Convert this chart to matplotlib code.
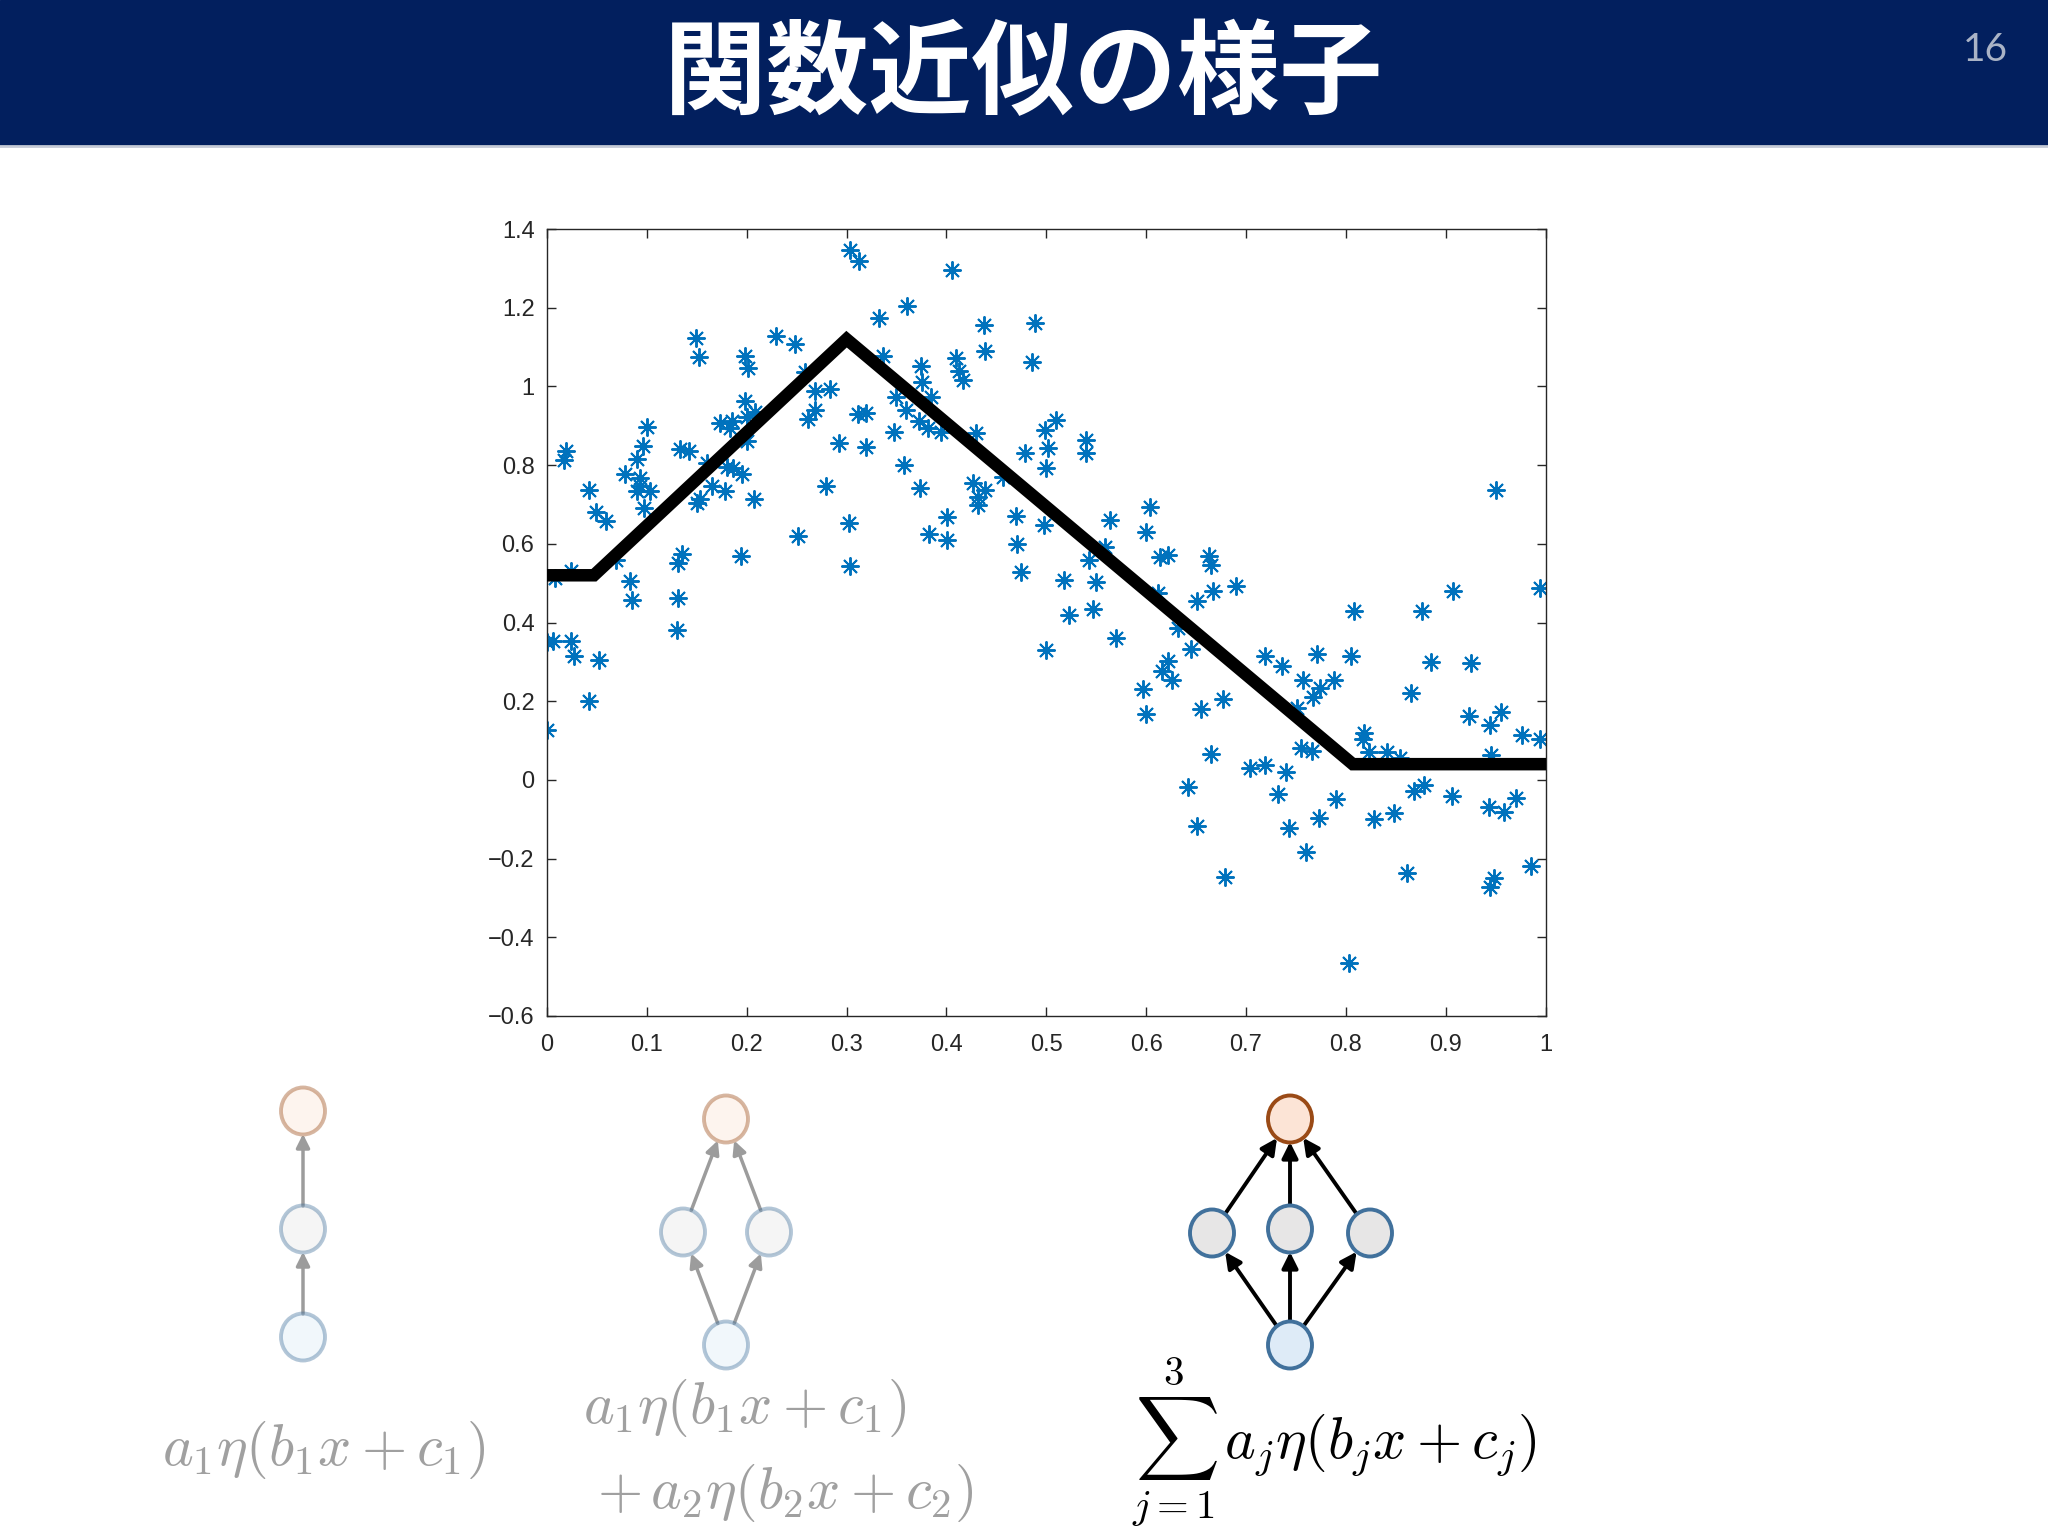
import matplotlib.pyplot as plt
from matplotlib.patches import Rectangle, Ellipse, FancyArrowPatch
import numpy as np

plt.rcParams['font.family'] = ['Noto Sans CJK JP', 'DejaVu Sans']
plt.rcParams['mathtext.fontset'] = 'cm'

title = "関数近似の様子"
page = "16"

# noisy samples
x_pts = [0.000, 0.000, 0.006, 0.024, 0.027, 0.052, 0.042, 0.017, 0.019, 0.008,
         0.024, 0.042, 0.049, 0.059, 0.069, 0.083, 0.085, 0.078, 0.090, 0.096,
         0.100, 0.093, 0.093, 0.090, 0.103, 0.097, 0.131, 0.130, 0.135, 0.131,
         0.133, 0.142, 0.150, 0.153, 0.149, 0.152, 0.160, 0.165, 0.173, 0.178,
         0.180, 0.183, 0.185, 0.186, 0.194, 0.195, 0.198, 0.201, 0.198, 0.200,
         0.200, 0.207, 0.208, 0.229, 0.248, 0.251, 0.258, 0.261, 0.268, 0.268,
         0.279, 0.283, 0.292, 0.302, 0.303, 0.303, 0.312, 0.311, 0.319, 0.319,
         0.332, 0.337, 0.348, 0.350, 0.358, 0.360, 0.361, 0.373, 0.374, 0.375,
         0.376, 0.382, 0.383, 0.385, 0.395, 0.401, 0.401, 0.406, 0.410, 0.413,
         0.417, 0.427, 0.430, 0.432, 0.432, 0.438, 0.439, 0.439, 0.457, 0.470,
         0.471, 0.475, 0.479, 0.486, 0.489, 0.498, 0.499, 0.500, 0.500, 0.502,
         0.510, 0.518, 0.523, 0.540, 0.540, 0.543, 0.547, 0.550, 0.559, 0.564,
         0.570, 0.597, 0.600, 0.600, 0.604, 0.612, 0.614, 0.616, 0.622, 0.622,
         0.626, 0.632, 0.642, 0.645, 0.651, 0.651, 0.655, 0.663, 0.665, 0.667,
         0.665, 0.677, 0.679, 0.690, 0.704, 0.719, 0.719, 0.732, 0.736, 0.740,
         0.743, 0.751, 0.755, 0.757, 0.760, 0.766, 0.767, 0.771, 0.773, 0.774,
         0.788, 0.790, 0.803, 0.805, 0.808, 0.817, 0.818, 0.823, 0.828, 0.841,
         0.848, 0.854, 0.861, 0.865, 0.868, 0.876, 0.878, 0.885, 0.906, 0.907,
         0.923, 0.925, 0.943, 0.944, 0.944, 0.945, 0.948, 0.950, 0.955, 0.958,
         0.970, 0.976, 0.985, 0.994, 0.994]
y_pts = [0.126, 0.350, 0.352, 0.354, 0.314, 0.305, 0.200, 0.813, 0.835, 0.513,
         0.530, 0.737, 0.682, 0.659, 0.560, 0.506, 0.458, 0.778, 0.815, 0.849,
         0.898, 0.767, 0.746, 0.733, 0.733, 0.691, 0.461, 0.380, 0.574, 0.551,
         0.840, 0.835, 0.703, 0.714, 1.122, 1.074, 0.805, 0.747, 0.906, 0.733,
         0.796, 0.894, 0.911, 0.792, 0.568, 0.778, 1.078, 1.048, 0.963, 0.922,
         0.860, 0.714, 0.936, 1.128, 1.107, 0.621, 1.037, 0.917, 0.940, 0.989,
         0.746, 0.993, 0.857, 0.654, 0.543, 1.346, 1.319, 0.930, 0.932, 0.845,
         1.175, 1.077, 0.883, 0.974, 0.800, 0.940, 1.204, 0.911, 0.743, 1.052,
         1.010, 0.894, 0.625, 0.974, 0.885, 0.667, 0.609, 1.296, 1.071, 1.040,
         1.016, 0.754, 0.881, 0.720, 0.699, 1.156, 1.090, 0.737, 0.771, 0.670,
         0.600, 0.528, 0.830, 1.063, 1.160, 0.648, 0.888, 0.792, 0.329, 0.843,
         0.915, 0.509, 0.420, 0.864, 0.832, 0.558, 0.435, 0.502, 0.593, 0.661,
         0.360, 0.231, 0.629, 0.168, 0.693, 0.475, 0.566, 0.278, 0.572, 0.303,
         0.255, 0.386, -0.018, 0.333, 0.454, -0.116, 0.180, 0.568, 0.547, 0.479,
         0.067, 0.205, -0.248, 0.494, 0.029, 0.039, 0.314, -0.036, 0.289, 0.019,
         -0.123, 0.183, 0.080, 0.255, -0.184, 0.073, 0.211, 0.319, -0.097, 0.234,
         0.253, -0.049, -0.465, 0.314, 0.430, 0.105, 0.118, 0.070, -0.099, 0.070,
         -0.085, 0.055, -0.237, 0.221, -0.028, 0.430, -0.014, 0.300, -0.041, 0.479,
         0.163, 0.297, -0.068, 0.140, -0.271, 0.063, -0.250, 0.736, 0.172, -0.082,
         -0.045, 0.115, -0.220, 0.103, 0.488]

# fitted piecewise-linear curve (3 units)
fit_x = [0.0, 0.047, 0.300, 0.807, 1.0]
fit_y = [0.52, 0.52, 1.12, 0.04, 0.04]

xticks = [0, 0.1, 0.2, 0.3, 0.4, 0.5, 0.6, 0.7, 0.8, 0.9, 1]
yticks = [-0.6, -0.4, -0.2, 0, 0.2, 0.4, 0.6, 0.8, 1, 1.2, 1.4]

fig = plt.figure(figsize=(20.48, 15.36), dpi=100)

# slide overlay (pixel coordinates)
ov = fig.add_axes([0, 0, 1, 1])
ov.set_xlim(0, 2048)
ov.set_ylim(1536, 0)
ov.axis('off')
ov.add_patch(Rectangle((0, 0), 2048, 145, color='#021f5e', zorder=1))
ov.plot([0, 2048], [146, 146], color='#c5cad6', lw=2, zorder=1)
ov.text(1024, 76, title, color='white', fontsize=74, fontweight='bold',
        ha='center', va='center', zorder=2)
ov.text(1985, 50, page, color='#aab3c6', fontsize=28, ha='center', va='center',
        family=['Lato', 'DejaVu Sans'], zorder=2)

# main plot
ax = fig.add_axes([547 / 2048, 1 - 1016 / 1536, 998.5 / 2048, 787 / 1536])
ax.plot(fit_x, fit_y, color='black', lw=9, solid_joinstyle='miter', zorder=3)
ax.plot(x_pts, y_pts, linestyle='none', marker=(8, 2, 0), ms=13, mew=1.4,
        color='#0072bd', zorder=2)
ax.set_xlim(0, 1)
ax.set_ylim(-0.6, 1.4)
ax.set_xticks(xticks)
ax.set_yticks(yticks)
ax.set_xticklabels(['%g' % t for t in xticks])
ax.set_yticklabels([('%g' % t).replace('-', '\u2212') for t in yticks])
ax.tick_params(direction='in', top=True, right=True, length=6.5, width=1,
               labelsize=17, colors='#262626')
ax.tick_params(axis='x', pad=13)
ax.tick_params(axis='y', pad=9)
for lab in ax.get_xticklabels() + ax.get_yticklabels():
    lab.set_family(['Liberation Sans Narrow', 'Liberation Sans', 'DejaVu Sans'])
for s in ax.spines.values():
    s.set_color('#262626')
    s.set_linewidth(1.0)


def node(cx, cy, ec, fc, alpha):
    ov.add_patch(Ellipse((cx, cy), 44, 47, facecolor=fc, edgecolor=ec,
                         lw=2.8, alpha=alpha, zorder=3))


def arrow(p, q, color, lw, ms):
    p = np.array(p, float)
    q = np.array(q, float)
    u = (q - p) / np.hypot(*(q - p))
    a = p + u * 23
    b = q - u * 23
    ov.add_patch(FancyArrowPatch(a, b, arrowstyle='-|>', mutation_scale=ms,
                                 color=color, lw=lw, shrinkA=0, shrinkB=0,
                                 zorder=2))


out_ec, out_fc = '#9a4a16', '#fce4d6'
hid_ec, hid_fc = '#41719c', '#e7e6e6'
in_ec, in_fc = '#41719c', '#deebf7'

# 1 hidden unit (faded)
top, mid, bot = (303, 1111), (303, 1229), (303, 1337)
node(*top, out_ec, out_fc, 0.4)
node(*mid, hid_ec, hid_fc, 0.4)
node(*bot, in_ec, in_fc, 0.4)
arrow(bot, mid, '#9c9c9c', 2.5, 20)
arrow(mid, top, '#9c9c9c', 2.5, 20)

# 2 hidden units (faded)
top, bot = (726, 1119), (726, 1345)
mids = [(683, 1232), (769, 1232)]
node(*top, out_ec, out_fc, 0.4)
node(*bot, in_ec, in_fc, 0.4)
for m in mids:
    node(*m, hid_ec, hid_fc, 0.4)
    arrow(bot, m, '#9c9c9c', 2.5, 20)
    arrow(m, top, '#9c9c9c', 2.5, 20)

# 3 hidden units
top, bot = (1290, 1119), (1290, 1345)
mids = [(1212, 1233), (1290, 1229), (1370, 1233)]
node(*top, out_ec, out_fc, 1.0)
node(*bot, in_ec, in_fc, 1.0)
for m in mids:
    node(*m, hid_ec, hid_fc, 1.0)
    arrow(bot, m, 'black', 2.8, 24)
    arrow(m, top, 'black', 2.8, 24)

fs = 42
ov.text(324, 1450, r'$a_1\eta(b_1x+c_1)$', color='#a0a0a0', fontsize=fs,
        ha='center', va='center')
ov.text(745, 1408, r'$a_1\eta(b_1x+c_1)$', color='#a0a0a0', fontsize=fs,
        ha='center', va='center')
ov.text(785, 1493, r'$+\,a_2\eta(b_2x+c_2)$', color='#a0a0a0', fontsize=fs,
        ha='center', va='center')
ov.text(1334, 1443, r'$\sum_{j=1}^{3}\,a_j\eta(b_jx+c_j)$', color='black',
        fontsize=fs, ha='center', va='center')

fig.savefig('out.png', dpi=100)
